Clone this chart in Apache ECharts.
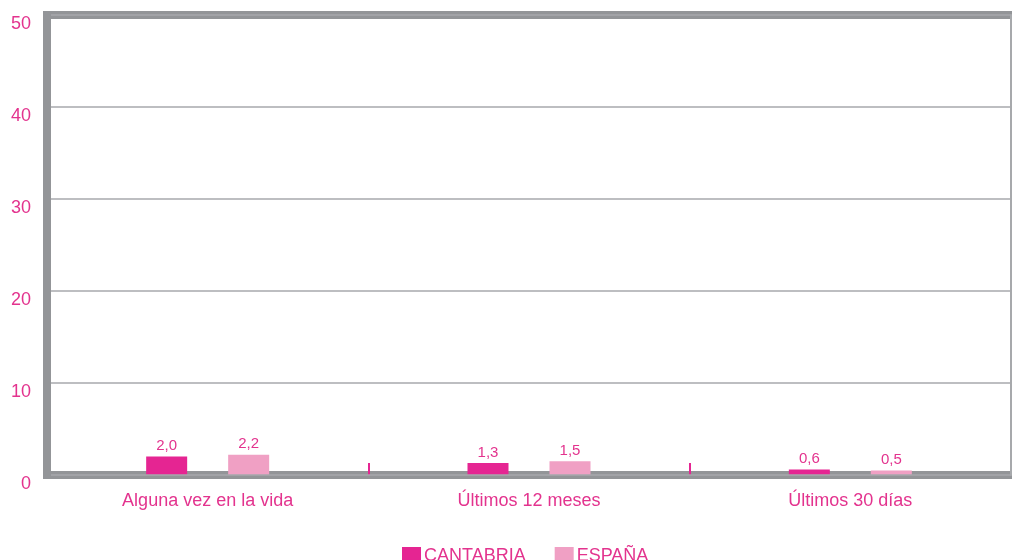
<!DOCTYPE html>
<html>
<head>
<meta charset="utf-8">
<script src="https://cdn.jsdelivr.net/npm/echarts@6/dist/echarts.min.js"></script>
<style>
  html, body { margin: 0; padding: 0; background: #fff; }
  #chart { width: 1012px; height: 560px; }
</style>
</head>
<body>
<div id="chart"></div>
<script>
const categories = ['Alguna vez en la vida', 'Últimos 12 meses', 'Últimos 30 días'];
const cantabria = [2.0, 1.3, 0.6];
const espana = [2.2, 1.5, 0.5];
const yTicks = [0, 10, 20, 30, 40, 50];

const pink = '#e3338e';
const gray = '#939598';
const sans = '"Liberation Sans", Arial, sans-serif';

const fmt = (p) => p.value.toFixed(1).replace('.', ',');

const barLabel = {
    show: true,
    position: 'top',
    distance: 3,
    color: pink,
    fontSize: 15,
    fontFamily: sans,
    formatter: fmt
};

const chart = echarts.init(document.getElementById('chart'));
chart.setOption({
    animation: false,
    grid: { left: 47, right: 1, top: 15, bottom: 85 },
    legend: {
        left: 397, top: 542,
        itemWidth: 19, itemHeight: 19, itemGap: 29,
        icon: 'rect',
        textStyle: { color: pink, fontSize: 18, fontFamily: sans, padding: [0, 0, 0, -2] },
        data: ['CANTABRIA', 'ESPAÑA']
    },
    xAxis: [{
        type: 'category',
        data: categories,
        axisLine: { onZero: false, lineStyle: { color: gray, width: 8, cap: 'square' } },
        axisTick: {
            show: true, inside: true, length: 12,
            lineStyle: { color: '#e52592', width: 2 }
        },
        axisLabel: { color: pink, fontSize: 18, fontFamily: sans, margin: 17 }
    }, {
        type: 'category',
        position: 'top',
        data: categories,
        axisLine: { onZero: false, lineStyle: { color: gray, width: 8, cap: 'square' } },
        axisTick: { show: false },
        axisLabel: { show: false }
    }],
    yAxis: [{
        type: 'value',
        min: yTicks[0],
        max: yTicks[yTicks.length - 1],
        interval: 10,
        z: 5,
        axisLine: { show: true, lineStyle: { color: gray, width: 8, cap: 'square' } },
        axisTick: { show: false },
        splitLine: { lineStyle: { color: '#a7a9ac', width: 1.5 } },
        axisLabel: {
            color: pink, fontSize: 18, fontFamily: sans,
            margin: 16, verticalAlign: 'top'
        }
    }, {
        type: 'value',
        position: 'right',
        min: yTicks[0],
        max: yTicks[yTicks.length - 1],
        interval: 10,
        z: 5,
        axisLine: { show: true, lineStyle: { color: '#a7a9ac', width: 2 } },
        axisTick: { show: false },
        splitLine: { show: false },
        axisLabel: { show: false }
    }],
    series: [{
        name: 'CANTABRIA',
        type: 'bar',
        data: cantabria,
        barWidth: 41,
        barGap: '100%',
        itemStyle: { color: '#e52592' },
        label: barLabel
    }, {
        name: 'ESPAÑA',
        type: 'bar',
        data: espana,
        barWidth: 41,
        itemStyle: { color: '#f0a0c4' },
        label: barLabel
    }]
});
</script>
</body>
</html>
